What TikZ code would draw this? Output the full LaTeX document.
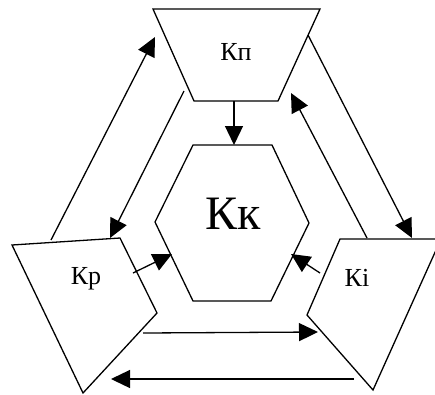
\documentclass[tikz,border=0pt]{standalone}
\usepackage{fontspec}
\setmainfont{Liberation Serif}
\usetikzlibrary{arrows.meta}
\tikzstyle{block} = [draw=black, line width=1.3pt, line join=miter]
\tikzstyle{label} = [font=\fontsize{26}{30}\selectfont, inner sep=0pt]
\tikzstyle{arrow} = [line width=1.3pt, -{Triangle[length=19pt,width=18pt]}]

\begin{document}
\begin{tikzpicture}[x=1pt, y=-1pt]
    \useasboundingbox (0,0) rectangle (435,394);
    % blocks
    \draw [block] (153,9) -- (320,9) -- (278,101) -- (194,101) -- cycle;
    \draw [block] (193,145) -- (272,145) -- (309,223) -- (271,301) -- (193,301) -- (155,222) -- cycle;
    \draw [block] (12,245) -- (120,238) -- (157,313) -- (83,393) -- cycle;
    \draw [block] (340,239) -- (441,239) -- (373,390) -- (307,315) -- cycle;
    \node (kp) [label] at (236,52) {Кп};
    \node (kk) [label, font=\fontsize{48}{52}\selectfont] at (233,214) {Кк};
    \node (kr) [label] at (86,279) {Кр};
    \node (ki) [label] at (357,278) {Кі};
    % connector ends
    \coordinate (kpbot) at (234,101);
    \coordinate (kktop) at (234,145);
    \coordinate (a1s) at (51,240);   \coordinate (a1e) at (155,37);
    \coordinate (a2s) at (184,91);   \coordinate (a2e) at (110,238);
    \coordinate (a3s) at (308,35);   \coordinate (a3e) at (412,238);
    \coordinate (a4s) at (367,238);  \coordinate (a4e) at (291,93);
    \coordinate (a5s) at (133,273);  \coordinate (a5e) at (172,254);
    \coordinate (a6s) at (320,273);  \coordinate (a6e) at (291,254);
    \coordinate (a7s) at (143,333);  \coordinate (a7e) at (318,332);
    \coordinate (a8s) at (354,379);  \coordinate (a8e) at (111,379);
    % arrows
    \draw [arrow] (kpbot) -- (kktop);
    \draw [arrow] (a1s) -- (a1e);
    \draw [arrow] (a2s) -- (a2e);
    \draw [arrow] (a3s) -- (a3e);
    \draw [arrow] (a4s) -- (a4e);
    \draw [arrow] (a5s) -- (a5e);
    \draw [arrow] (a6s) -- (a6e);
    \draw [arrow] (a7s) -- (a7e);
    \draw [arrow] (a8s) -- (a8e);
\end{tikzpicture}
\end{document}
